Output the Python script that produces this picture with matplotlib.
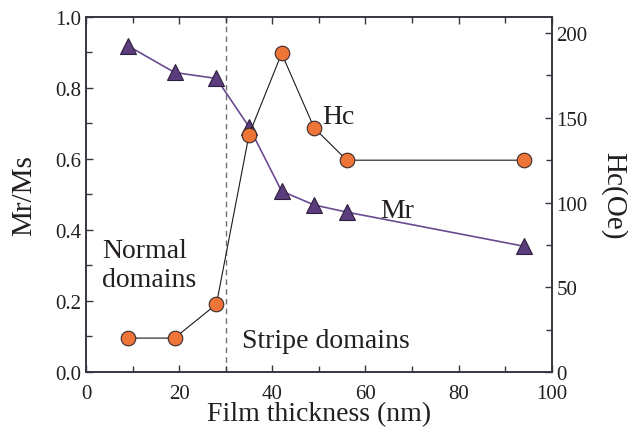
import matplotlib
matplotlib.use("Agg")
import matplotlib.pyplot as plt
from matplotlib.ticker import MultipleLocator

plt.rcParams['font.family'] = ['Liberation Serif', 'DejaVu Serif']
plt.rcParams['mathtext.fontset'] = 'stix'

# Data
thickness_mr = [9, 19, 28, 35, 42, 49, 56, 94]
mr_ms = [0.918, 0.843, 0.826, 0.69, 0.509, 0.47, 0.45, 0.354]
thickness_hc = [9, 19, 28, 35, 42, 49, 56, 94]
hc_oe = [20, 20, 40, 140, 188, 144, 125, 125]

xlabel = "Film thickness (nm)"
ylabel_left = "Mr/Ms"
ylabel_right = "Hc(Oe)"

text_c = '#231f20'
spine_c = '#3a3340'
purple_face = '#5b3c7d'
purple_line = '#6b4a90'
orange_face = '#ec7537'

fig = plt.figure(figsize=(6.28, 4.31), dpi=100)
ax = fig.add_axes([0.137, 0.1346, 0.7415, 0.8244])
ax2 = ax.twinx()

ax.axvline(30, color='#707070', linestyle=(0, (4, 3)), linewidth=1.0, zorder=1)

ax.plot(thickness_mr, mr_ms, color=purple_line, linewidth=1.2, marker='^',
        markersize=11, markerfacecolor=purple_face, markeredgecolor='#2d1f3d',
        markeredgewidth=0.8, zorder=3)
ax2.plot(thickness_hc, hc_oe, color='#1a1a1a', linewidth=0.8, marker='o',
         markersize=10.5, markerfacecolor=orange_face, markeredgecolor='#3a2a2a',
         markeredgewidth=0.8, zorder=3)

ax.set_xlim(0, 100)
ax.set_ylim(0, 1.0)
ax2.set_ylim(0, 209.7)

ax.xaxis.set_major_locator(MultipleLocator(20))
ax.xaxis.set_minor_locator(MultipleLocator(10))
ax.yaxis.set_major_locator(MultipleLocator(0.2))
ax.yaxis.set_minor_locator(MultipleLocator(0.1))
ax2.yaxis.set_major_locator(MultipleLocator(50))
ax2.yaxis.set_minor_locator(MultipleLocator(25))

ax.tick_params(axis='both', which='both', direction='in', colors=spine_c,
               labelcolor=text_c, labelsize=15, width=1.0)
ax.tick_params(axis='x', which='both', top=True, pad=8.5)
ax.tick_params(axis='y', which='both', right=False)
ax.tick_params(which='major', length=5)
ax.tick_params(which='minor', length=4)
ax2.tick_params(axis='y', which='both', direction='in', colors=spine_c,
                labelcolor=text_c, labelsize=15, width=1.0)
ax2.tick_params(which='major', length=5)
ax2.tick_params(which='minor', length=4)

ax.yaxis.set_major_formatter(plt.FuncFormatter(lambda v, p: f"{v:.1f}"))

for a in (ax, ax2):
    for s in a.spines.values():
        s.set_color(spine_c)
        s.set_linewidth(1.2)

ax.set_xlabel(xlabel, fontsize=20, color=text_c, labelpad=-1)
ax.set_ylabel(ylabel_left, fontsize=21, color=text_c, labelpad=13)
ax2.set_ylabel(ylabel_right, fontsize=21, color=text_c, rotation=270, labelpad=28)

ax.text(50.8, 0.72, "Hc", fontsize=20, color=text_c, va='center', ha='left')
ax.text(63.2, 0.455, "Mr", fontsize=20, color=text_c, va='center', ha='left')
ax.text(3.4, 0.3, "Normal\ndomains", fontsize=20, color=text_c, va='center',
        ha='left', linespacing=1.2)
ax.text(33.6, 0.09, "Stripe domains", fontsize=20, color=text_c, va='center', ha='left')

fig.savefig("out.png", dpi=100)
